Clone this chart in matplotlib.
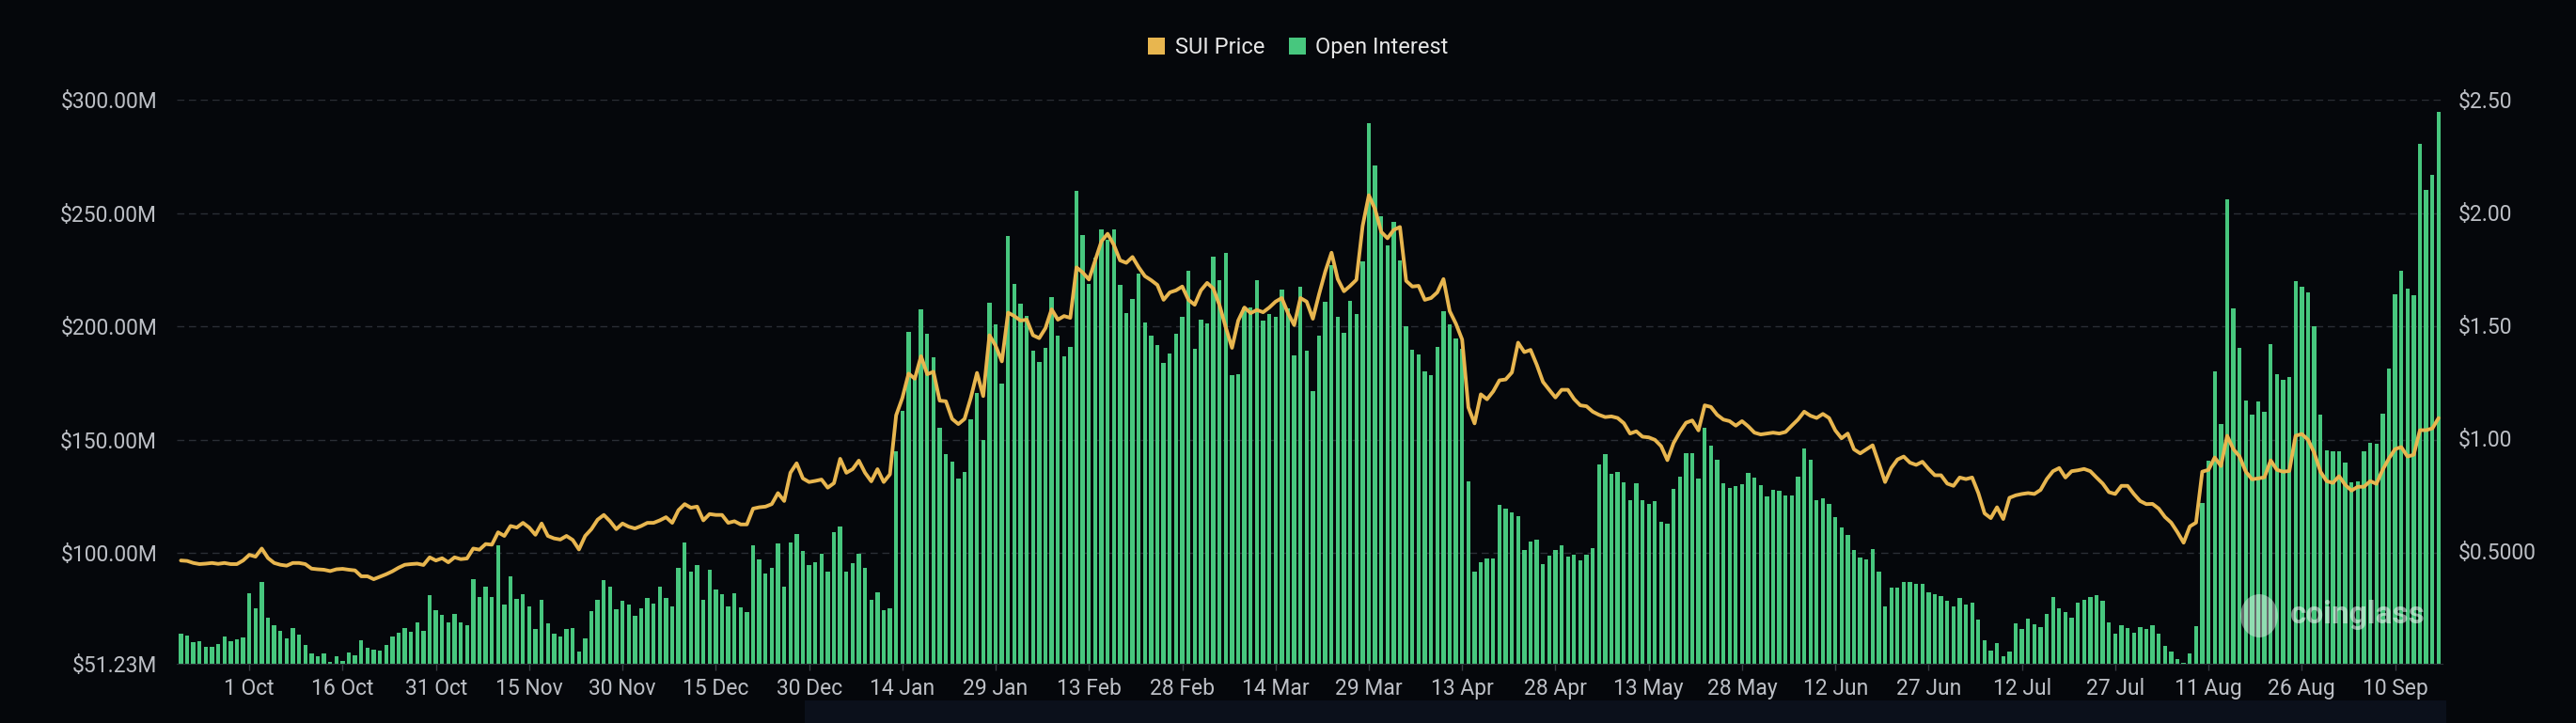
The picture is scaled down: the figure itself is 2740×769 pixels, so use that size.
import matplotlib.pyplot as plt
import pandas as pd
from matplotlib.patches import Patch, Rectangle, Ellipse

# daily values, first bar 20 Sep 2023
start_day = '2023-09-20'

open_interest = [  # $M
    64.3, 63.5, 60.6, 61.1, 58.5, 58.8, 60.1, 63.1, 61.1, 61.9, 62.8, 82.2, 75.6, 87.5, 71.4, 68.2,
    65.8, 62.6, 66.8, 64.0, 59.7, 56.0, 54.4, 55.6, 52.1, 54.6, 52.6, 56.4, 55.1, 61.5, 58.3, 57.5,
    57.2, 59.7, 63.2, 64.9, 66.9, 65.3, 69.3, 65.8, 81.7, 74.7, 72.6, 69.4, 73.1, 69.6, 68.2, 88.5,
    80.6, 85.4, 80.7, 103.5,
    77.5, 90.0, 79.9, 81.8, 76.4, 66.5, 79.4, 69.0, 64.4, 63.3, 66.7, 66.9, 56.7, 62.4, 74.6, 79.4,
    88.1, 85.3, 75.4, 78.9, 77.4, 72.5, 75.6, 80.4, 77.8, 85.3, 80.1, 76.7, 93.5, 104.6, 91.7, 95.0,
    79.4, 92.8, 84.0, 82.1, 76.4, 82.5, 76.3, 74.0, 103.6, 97.2, 91.1, 93.6, 104.4, 85.3, 104.7, 108.6,
    101.0, 94.6, 96.0, 99.7, 91.9,
    109.3, 111.6, 92.0, 95.8, 99.8, 93.7, 79.6, 82.9, 75.0, 75.9, 145.0, 162.8, 197.6, 178.0, 207.6, 196.7,
    186.3, 155.5, 143.6, 140.4, 133.0, 135.8, 159.1, 170.9, 150.0, 210.5, 201.1, 174.9, 239.8, 219.0, 210.1, 204.7,
    189.4, 184.5, 190.8, 213.0, 196.1, 187.1, 191.0, 260.0, 240.6, 219.0, 230.3, 243.1, 238.3, 242.9, 218.3, 206.1,
    212.1, 223.6, 201.8, 195.9, 191.7,
    184.1, 188.3, 196.8, 204.2, 224.6, 190.3, 203.2, 201.3, 231.0, 220.3, 232.5, 178.4, 179.2, 208.5, 208.5, 220.4,
    202.5, 205.5, 204.2, 216.4, 208.0, 187.4, 217.4, 189.4, 171.5, 196.0, 210.9, 227.1, 204.2, 197.2, 211.2, 205.4,
    228.6, 289.8, 271.2, 248.7, 236.0, 246.1, 229.3, 200.3, 190.0, 187.8, 180.1, 178.7, 191.0, 206.7, 201.2, 194.6,
    190.3, 131.8, 92.0, 96.1, 97.7,
    97.8, 121.3, 119.6, 118.2, 116.5, 101.3, 105.3, 105.8, 95.1, 98.8, 101.3, 103.5, 98.6, 99.4, 96.8, 99.2,
    102.4, 139.3, 143.6, 134.9, 136.0, 131.5, 123.6, 131.0, 123.3, 121.8, 122.8, 113.9, 112.9, 128.6, 133.6, 144.0,
    144.3, 133.1, 155.4, 147.4, 141.4, 130.8, 128.9, 129.7, 130.4, 135.6, 133.5, 130.0, 125.0, 127.9, 127.6, 125.3,
    125.6, 133.9, 146.1, 141.4, 123.6,
    124.3, 121.8, 116.0, 111.3, 108.2, 101.5, 98.1, 97.2, 101.8, 91.7, 76.7, 85.0, 85.0, 87.5, 87.5, 86.5,
    86.4, 82.9, 81.9, 81.0, 78.9, 76.5, 80.1, 77.2, 78.2, 70.8, 61.4, 57.2, 60.3, 54.7, 56.8, 69.0,
    66.7, 71.0, 68.8, 67.6, 73.1, 80.8, 75.8, 73.9, 71.7, 78.1, 79.4, 80.6, 81.5, 78.9, 69.3, 64.6,
    68.1, 66.8, 64.9, 67.4, 66.5,
    68.2, 64.5, 59.0, 56.8, 53.3, 51.5, 55.8, 67.8, 122.1, 140.9, 180.4, 157.0, 256.1, 207.9, 190.8, 167.3,
    161.0, 167.0, 162.3, 192.5, 179.1, 176.5, 177.7, 220.1, 217.6, 215.1, 200.2, 161.1, 145.6, 144.9, 144.9, 140.2,
    131.2, 131.8, 144.9, 148.6, 148.2, 161.6, 181.7, 214.2, 224.6, 216.9, 213.7, 280.6, 260.5, 267.0, 294.8,
]

sui_price = [  # $
    0.458, 0.456, 0.447, 0.442, 0.444, 0.447, 0.443, 0.447, 0.442, 0.442, 0.458, 0.483, 0.475, 0.511, 0.469, 0.447,
    0.439, 0.435, 0.447, 0.447, 0.442, 0.422, 0.419, 0.417, 0.411, 0.419, 0.421, 0.417, 0.414, 0.388, 0.388, 0.375,
    0.386, 0.397, 0.410, 0.426, 0.439, 0.442, 0.444, 0.438, 0.472, 0.458, 0.468, 0.450, 0.472, 0.464, 0.467, 0.511,
    0.506, 0.531, 0.528, 0.583,
    0.567, 0.611, 0.604, 0.625, 0.604, 0.572, 0.622, 0.567, 0.556, 0.551, 0.567, 0.549, 0.507, 0.567, 0.597, 0.639,
    0.660, 0.632, 0.597, 0.622, 0.608, 0.600, 0.611, 0.625, 0.625, 0.636, 0.650, 0.625, 0.681, 0.708, 0.692, 0.697,
    0.636, 0.664, 0.660, 0.660, 0.625, 0.632, 0.618, 0.618, 0.688, 0.694, 0.697, 0.708, 0.757, 0.722, 0.847, 0.889,
    0.822, 0.806, 0.811, 0.817, 0.781,
    0.801, 0.909, 0.847, 0.863, 0.901, 0.847, 0.809, 0.863, 0.806, 0.840, 1.102, 1.179, 1.287, 1.264, 1.364, 1.284,
    1.295, 1.167, 1.164, 1.086, 1.063, 1.086, 1.179, 1.290, 1.187, 1.457, 1.410, 1.341, 1.557, 1.542, 1.522, 1.526,
    1.457, 1.444, 1.488, 1.572, 1.526, 1.542, 1.534, 1.758, 1.735, 1.704, 1.789, 1.873, 1.907, 1.858, 1.789, 1.778,
    1.804, 1.758, 1.719, 1.701, 1.680,
    1.614, 1.647, 1.656, 1.673, 1.614, 1.592, 1.656, 1.689, 1.664, 1.589, 1.492, 1.401, 1.522, 1.580, 1.555, 1.569,
    1.559, 1.580, 1.606, 1.622, 1.555, 1.502, 1.622, 1.606, 1.530, 1.639, 1.740, 1.823, 1.706, 1.652, 1.676, 1.703,
    1.941, 2.078, 2.016, 1.915, 1.887, 1.924, 1.937, 1.698, 1.673, 1.676, 1.614, 1.622, 1.647, 1.706, 1.564, 1.508,
    1.438, 1.137, 1.066, 1.195, 1.173,
    1.208, 1.257, 1.261, 1.292, 1.424, 1.382, 1.392, 1.326, 1.250, 1.215, 1.181, 1.215, 1.215, 1.174, 1.146, 1.142,
    1.118, 1.104, 1.094, 1.097, 1.090, 1.067, 1.021, 1.031, 1.007, 1.004, 0.993, 0.965, 0.903, 0.979, 1.028, 1.069,
    1.079, 1.035, 1.146, 1.139, 1.104, 1.083, 1.076, 1.056, 1.076, 1.053, 1.025, 1.017, 1.021, 1.025, 1.021, 1.028,
    1.056, 1.083, 1.118, 1.100, 1.090,
    1.108, 1.090, 1.035, 1.000, 1.021, 0.951, 0.933, 0.951, 0.969, 0.889, 0.806, 0.868, 0.906, 0.919, 0.892, 0.882,
    0.896, 0.864, 0.836, 0.836, 0.799, 0.789, 0.826, 0.819, 0.826, 0.757, 0.667, 0.646, 0.694, 0.642, 0.736, 0.747,
    0.753, 0.757, 0.753, 0.771, 0.819, 0.854, 0.868, 0.826, 0.854, 0.858, 0.864, 0.854, 0.826, 0.799, 0.761, 0.753,
    0.789, 0.789, 0.753, 0.722, 0.708,
    0.709, 0.688, 0.651, 0.626, 0.584, 0.537, 0.609, 0.626, 0.852, 0.860, 0.915, 0.877, 1.011, 0.952, 0.919, 0.852,
    0.818, 0.822, 0.827, 0.902, 0.860, 0.852, 0.855, 1.011, 1.019, 0.994, 0.936, 0.852, 0.810, 0.802, 0.832, 0.793,
    0.768, 0.785, 0.785, 0.810, 0.798, 0.860, 0.910, 0.952, 0.961, 0.919, 0.927, 1.036, 1.036, 1.044, 1.090,
]

oi_ticks = [51.23, 100, 150, 200, 250, 300]
oi_labels = ['$51.23M', '$100.00M', '$150.00M', '$200.00M', '$250.00M', '$300.00M']
price_ticks = [0.5, 1.0, 1.5, 2.0, 2.5]
price_labels = ['$0.5000', '$1.00', '$1.50', '$2.00', '$2.50']

bg = '#05070b'
green = '#47c77e'
yellow = '#e8b64f'
grid_c = '#2a2e35'
text_c = '#bcbfc5'

plt.rcParams['font.family'] = ['Roboto', 'DejaVu Sans']

days = pd.date_range(start_day, periods=len(open_interest), freq='D')
tick_days = pd.date_range('2023-10-01', periods=24, freq='15D')
tick_labels = ['%d %s' % (d.day, d.strftime('%b')) for d in tick_days]

W, H = 2740, 769
fig = plt.figure(figsize=(W / 100, H / 100), dpi=100, facecolor=bg)
ax = fig.add_axes([188 / W, 1 - 706 / H, (2598 - 188) / W, (706 - 106.4) / H])
ax.set_facecolor(bg)

ax.bar(days, open_interest, width=0.66, color=green, zorder=2)
ax.set_ylim(51.23, 300)
ax.set_xlim(days[0] - pd.Timedelta(hours=16), days[-1] + pd.Timedelta(hours=15))
ax.set_yticks(oi_ticks)
ax.set_yticklabels(oi_labels)
ax.set_xticks(tick_days)
ax.set_xticklabels(tick_labels)
ax.set_axisbelow(True)
ax.grid(axis='y', color=grid_c, linewidth=1.0, linestyle=(0, (5.5, 3.5)))
ax.yaxis.get_gridlines()[0].set_visible(False)
ax.grid(axis='x', visible=False)

for s in ['top', 'left', 'right']:
    ax.spines[s].set_visible(False)
ax.spines['bottom'].set_color('#2c3037')
ax.tick_params(axis='y', length=0, pad=15, labelsize=16.5, labelcolor=text_c)
ax.tick_params(axis='x', length=5, width=1, color='#3a3e45', pad=6,
               labelsize=16.5, labelcolor=text_c)

ax2 = ax.twinx()
ax2.plot(days, sui_price, color=yellow, linewidth=2.8, solid_joinstyle='round',
         solid_capstyle='round', zorder=3)
ax2.set_ylim(0, 2.5)
ax2.set_yticks(price_ticks)
ax2.set_yticklabels(price_labels)
ax2.tick_params(axis='y', length=0, pad=12, labelsize=16.5, labelcolor=text_c)
for s in ax2.spines.values():
    s.set_visible(False)

handles = [Patch(facecolor=yellow, edgecolor='none', label='SUI Price'),
           Patch(facecolor=green, edgecolor='none', label='Open Interest')]
fig.legend(handles=handles, loc='center', bbox_to_anchor=(0.504, 0.934), ncol=2,
           frameon=False, fontsize=17, handlelength=0.75, handleheight=0.85,
           handletextpad=0.45, columnspacing=1.1, labelcolor='#e6e6e6')

# watermark
fig.text(0.9153, 0.1495, 'coinglass', color='white', alpha=0.5, fontsize=24,
         fontweight='bold', ha='center', va='center')
fig.patches.append(Ellipse((2403 / W, 1 - 655 / H), 40 / W, 46 / H,
                           transform=fig.transFigure, facecolor='white',
                           alpha=0.4, edgecolor='none', zorder=5))

# dark strip at the bottom of the screenshot
fig.patches.append(Rectangle((856 / W, 0), (2602 - 856) / W, 24 / H,
                             transform=fig.transFigure, facecolor='#0b101b',
                             edgecolor='none', zorder=0))

fig.savefig('out.png', dpi=100, facecolor=bg)
